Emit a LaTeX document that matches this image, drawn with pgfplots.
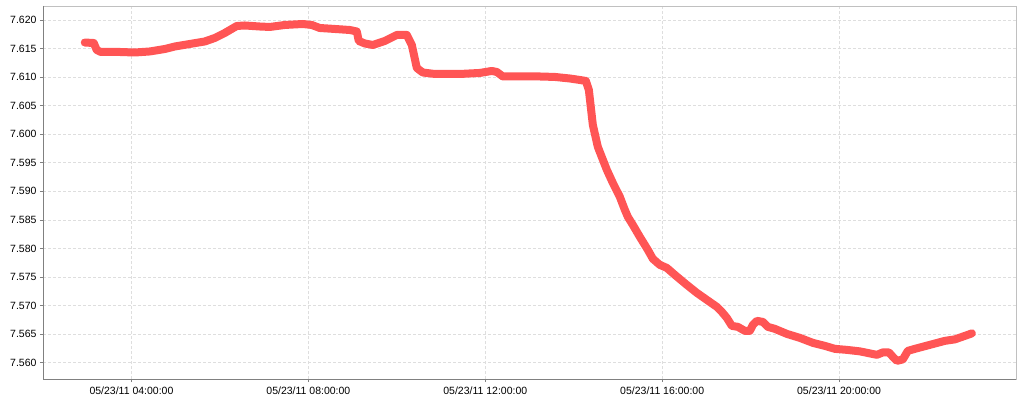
\documentclass[border=0pt]{standalone}
\usepackage{pgfplots}
\pgfplotsset{compat=1.18}
\usepackage{fontspec}
\setmainfont{Liberation Sans}
\definecolor{serie}{RGB}{255,85,85}
\definecolor{gridc}{RGB}{222,222,222}
\definecolor{frame}{RGB}{192,192,192}
\definecolor{axisc}{RGB}{128,128,128}

\begin{document}
\begin{tikzpicture}[x=1pt,y=1pt]
\path[use as bounding box] (-43,-21) rectangle (981,379);
\begin{axis}[
    scale only axis,
    width=973pt, height=373pt,
    xmin=2, xmax=24,
    ymin=7.55715, ymax=7.62245,
    xtick={4,8,12,16,20},
    xticklabels={05/23/11 04:00:00,05/23/11 08:00:00,05/23/11 12:00:00,05/23/11 16:00:00,05/23/11 20:00:00},
    ytick={7.560,7.565,7.570,7.575,7.580,7.585,7.590,7.595,7.600,7.605,7.610,7.615,7.620},
    scaled y ticks=false,
    yticklabel style={/pgf/number format/fixed, /pgf/number format/fixed zerofill,
      /pgf/number format/precision=3, /pgf/number format/assume math mode=true},
    ticklabel style={font=\fontsize{10.5}{12}\selectfont, text=black},
    xticklabel style={yshift=-1pt},
    tick align=outside,
    major tick length=3pt,
    tick style={axisc, line width=0.8pt},
    xtick pos=bottom, ytick pos=left,
    grid=major,
    major grid style={gridc, dash pattern=on 3pt off 2pt, line width=0.7pt},
    axis line style={frame, line width=0.8pt},
    clip=false,
]
\addplot[serie, line width=8pt, line join=round, line cap=round] coordinates {
(2.944,7.61606) (3.147,7.61597) (3.215,7.61475) (3.306,7.61440) (3.735,7.61440)
(4.075,7.61431) (4.414,7.61449) (4.753,7.61492) (4.979,7.61536) (5.318,7.61580)
(5.658,7.61624) (5.884,7.61685) (6.110,7.61773) (6.381,7.61895) (6.562,7.61904)
(6.901,7.61886) (7.128,7.61878) (7.467,7.61913) (7.874,7.61930) (8.077,7.61913)
(8.258,7.61860) (8.597,7.61843) (8.937,7.61825) (9.095,7.61799) (9.140,7.61633)
(9.276,7.61589) (9.457,7.61563) (9.728,7.61633) (10.000,7.61738) (10.226,7.61738)
(10.339,7.61563) (10.452,7.61160) (10.587,7.61081) (10.859,7.61055) (11.424,7.61055)
(11.876,7.61073) (12.148,7.61108) (12.261,7.61090) (12.397,7.61011) (12.781,7.61011)
(13.233,7.61011) (13.573,7.61003) (13.912,7.60976) (14.138,7.60950) (14.274,7.60933)
(14.342,7.60775) (14.432,7.60163) (14.545,7.59778) (14.749,7.59375) (14.884,7.59148)
(15.043,7.58903) (15.156,7.58675) (15.224,7.58553) (15.336,7.58413) (15.495,7.58203)
(15.676,7.57975) (15.790,7.57818) (15.947,7.57713) (16.105,7.57660) (16.286,7.57538)
(16.557,7.57363) (16.784,7.57223) (17.010,7.57100) (17.236,7.56978) (17.349,7.56890)
(17.462,7.56785) (17.575,7.56645) (17.711,7.56628) (17.869,7.56558) (17.982,7.56558)
(18.050,7.56663) (18.141,7.56733) (18.275,7.56715) (18.389,7.56628) (18.547,7.56593)
(18.819,7.56505) (19.113,7.56435) (19.407,7.56348) (19.678,7.56295) (19.904,7.56243)
(20.176,7.56225) (20.470,7.56199) (20.854,7.56138) (20.990,7.56181) (21.126,7.56181)
(21.216,7.56103) (21.307,7.56033) (21.442,7.56059) (21.555,7.56208) (21.714,7.56243)
(22.053,7.56313) (22.392,7.56383) (22.618,7.56409) (22.844,7.56470) (23.003,7.56514)
};
\draw[axisc, line width=0.9pt] (rel axis cs:0,1) -- (rel axis cs:0,0) -- (rel axis cs:1,0);
\end{axis}
\end{tikzpicture}
\end{document}
